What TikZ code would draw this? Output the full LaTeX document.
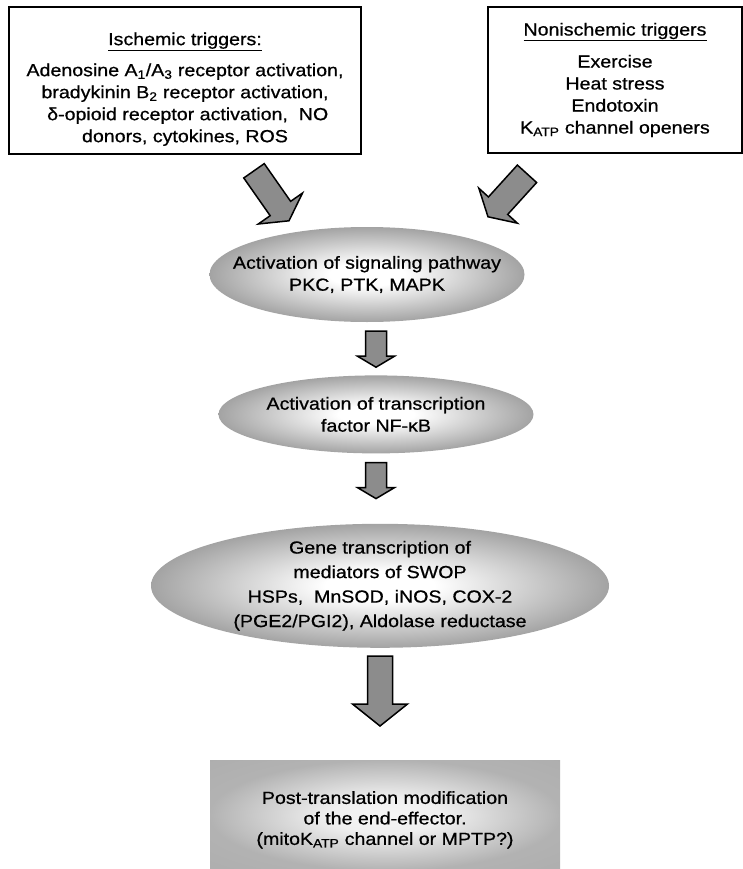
\documentclass[tikz,border=0pt]{standalone}
\usepackage{fontspec}
\setmainfont[FakeStretch=1.12, FakeBold=0.7]{Liberation Sans}
\usepackage{tikz}
\usetikzlibrary{calc, positioning, shapes.geometric}

% soft shadings: white centre, grey rim
\pgfdeclareradialshading{blobshade}{\pgfpoint{0bp}{0bp}}{%
    color(0bp)=(white); color(6bp)=(white); color(25bp)=(black!36); color(50bp)=(black!36)}
\pgfdeclareradialshading{boxshade}{\pgfpoint{0bp}{0bp}}{%
    color(0bp)=(black!4); color(8bp)=(black!6); color(25bp)=(black!30); color(50bp)=(black!34)}

% block arrow between two points: tail, tip, shaft half width, head half width, head length
\newcommand{\fatarrow}[5]{%
    \draw[fatarr] let \p1=(#1), \p2=(#2),
        \n1={atan2(\y2-\y1,\x2-\x1)},
        \p3=($(\p2)+({\n1+180}:#5)$) in
        ($(\p1)+({\n1+90}:#3)$) -- ($(\p3)+({\n1+90}:#3)$) --
        ($(\p3)+({\n1+90}:#4)$) -- (\p2) --
        ($(\p3)+({\n1-90}:#4)$) -- ($(\p3)+({\n1-90}:#3)$) --
        ($(\p1)+({\n1-90}:#3)$) -- cycle;
}

\begin{document}
\begin{tikzpicture}[
            x = 1pt, y = -1pt, % pixel units, y grows downwards
            node distance = 50pt, % distance between nodes
            font = \fontsize{17.5}{22}\selectfont
        ]

        \tikzstyle{trigger}=[
            draw = black,
            line width = 1.6pt,
            fill = white,
            align = center,
            inner sep = 0pt
        ]
        \tikzstyle{blob}=[
            ellipse,
            shading = blobshade,
            align = center,
            inner xsep = -60pt,
            inner ysep = -20pt
        ]
        \tikzstyle{effector}=[
            rectangle,
            shading = boxshade,
            align = center,
            minimum width = 350pt,
            minimum height = 110pt
        ]
        \tikzstyle{fatarr}=[
            draw = black,
            line width = 1.5pt,
            fill = black!45,
            line join = miter
        ]

    \useasboundingbox (0,0) rectangle (743,869);

	\node[trigger, minimum width=352pt, minimum height=147pt] (isch) at (185,80.5)
	    {\rule{0pt}{30pt}\underline{Ischemic triggers:}\\[9pt]
	     Adenosine A\textsubscript{1}/A\textsubscript{3} receptor activation,\\
	     bradykinin B\textsubscript{2} receptor activation,\\
	     \ δ-opioid receptor activation,~ NO\\
	     donors, cytokines, ROS};
	\node[trigger, minimum width=254pt, minimum height=146pt] (nonisch) at (615,80)
	    {\underline{Nonischemic triggers}\\[10pt]
	     Exercise\\ Heat stress\\ Endotoxin\\
	     K\textsubscript{ATP} channel openers};

	\node[blob, minimum width=315pt, minimum height=95pt] (signal) at (367,274.5)
	    {Activation of signaling pathway\\ PKC, PTK, MAPK};
	\node[blob, minimum width=315pt, minimum height=78pt] (nfkb) [below=53pt of signal, xshift=9pt]
	    {Activation of transcription\\ factor NF-κB};
	\node[blob, minimum width=458pt, minimum height=124pt,
	      font=\fontsize{17.5}{24.5}\selectfont] (gene) [below=70pt of nfkb, xshift=4pt]
	    {Gene transcription of\\ mediators of SWOP\\
	     HSPs,~ MnSOD, iNOS, COX-2\\ (PGE2/PGI2), Aldolase reductase};
	\node[effector, font=\fontsize{17.5}{20.5}\selectfont] (effect) [below=112pt of gene, xshift=5pt]
	    {\rule{0pt}{22pt}Post-translation modification\\ of the end-effector.\\
	     (mitoK\textsubscript{ATP} channel or MPTP?)};

	\fatarrow{[shift={(69,16)}]isch.south}{[shift={(-78,-6)}]signal.north}{12.5pt}{27pt}{15pt}
	\fatarrow{[shift={(-88,20)}]nonisch.south}{[shift={(121,-10)}]signal.north}{13pt}{26pt}{15pt}
	\fatarrow{[yshift=-9pt]signal.south -| nfkb.north}{[yshift=8pt]nfkb.north}{10.5pt}{18.5pt}{11pt}
	\fatarrow{[yshift=-9pt]nfkb.south}{[yshift=25pt]nfkb.south |- gene.north}{10.5pt}{18.5pt}{11pt}
	\fatarrow{[yshift=-8pt]gene.south}{[yshift=34pt]gene.south |- effect.north}{12.5pt}{27.5pt}{22pt}

    \end{tikzpicture}
\end{document}
